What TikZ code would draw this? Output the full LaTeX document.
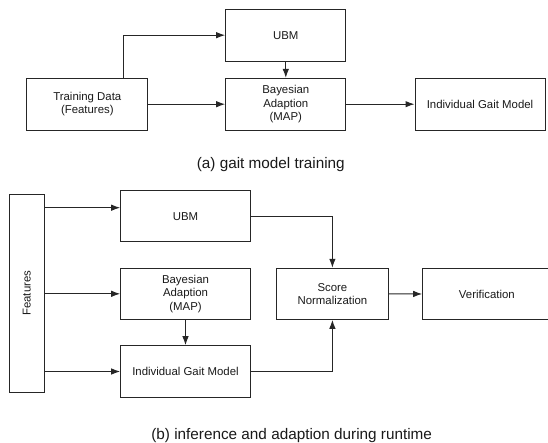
\documentclass[tikz,border=0pt]{standalone}
\usepackage{fontspec}
\setmainfont{Liberation Sans}
\usetikzlibrary{arrows.meta}
\begin{document}
\begin{tikzpicture}[x=1pt,y=-1pt,
  box/.style={draw=black!85, line width=1pt, inner sep=0pt, align=center,
    font=\fontsize{11.4}{13.4}\selectfont, text=black!90},
  lbl/.style={inner sep=0pt, font=\fontsize{11.4}{13.4}\selectfont, text=black!90},
  arr/.style={draw=black!85, line width=1pt, -{Latex[length=9pt,width=6.5pt]}},
  captext/.style={inner sep=0pt, anchor=base, font=\fontsize{15.3}{18}\selectfont, text=black!90}]
\useasboundingbox (0,0) rectangle (548,443);

% (a) training
\node[box, minimum width=120.3pt, minimum height=51.7pt] (tubm) at (285.8,35.2) {UBM};
\node[box, minimum width=120.7pt, minimum height=51.7pt] (ttrain) at (87.3,104.2) {Training Data\\(Features)};
\node[box, minimum width=120.3pt, minimum height=51.7pt] (tba) at (285.8,104.2) {Bayesian\\Adaption\\(MAP)};
\node[box, minimum width=130pt, minimum height=51.7pt] (tigm) at (480,104.2) {Individual Gait Model};

\draw[arr] ([xshift=36.4pt]ttrain.north) |- (tubm.west);
\draw[arr] (ttrain) -- (tba);
\draw[arr] (tubm) -- (tba);
\draw[arr] (tba) -- (tigm);

\node[captext] (capa) at (270.8,169) {(a) gait model training};

% (b) runtime
\node[box, minimum width=34.7pt, minimum height=198pt] (feat) at (26.7,293.3) {};
\node[lbl, rotate=90] (featlbl) at (feat.center) {Features};
\node[box, minimum width=129.6pt, minimum height=51.3pt] (bubm) at (185.5,216.3) {UBM};
\node[box, minimum width=129.6pt, minimum height=51pt] (bba) at (185.5,293.8) {Bayesian\\Adaption\\(MAP)};
\node[box, minimum width=129.6pt, minimum height=51.6pt] (bigm) at (185.5,371.5) {Individual Gait Model};
\node[box, minimum width=112.2pt, minimum height=51pt] (score) at (332.4,293.8) {Score\\Normalization};
\node[box, minimum width=128.3pt, minimum height=51.7pt] (verif) at (486.85,294.1) {Verification};

\coordinate (yu) at (0,207.7);
\draw[arr] (feat.east |- yu) -- (bubm.west |- yu);
\draw[arr] (feat.east |- bba) -- (bba.west);
\draw[arr] (feat.east |- bigm) -- (bigm.west);
\draw[arr] (bba) -- (bigm);
\draw[arr] (bubm.east) -| (score.north);
\draw[arr] (bigm.east) -| (score.south);
\draw[arr] (score) -- (verif);

\node[captext] (capb) at (291.7,439) {(b) inference and adaption during runtime};
\end{tikzpicture}
\end{document}
